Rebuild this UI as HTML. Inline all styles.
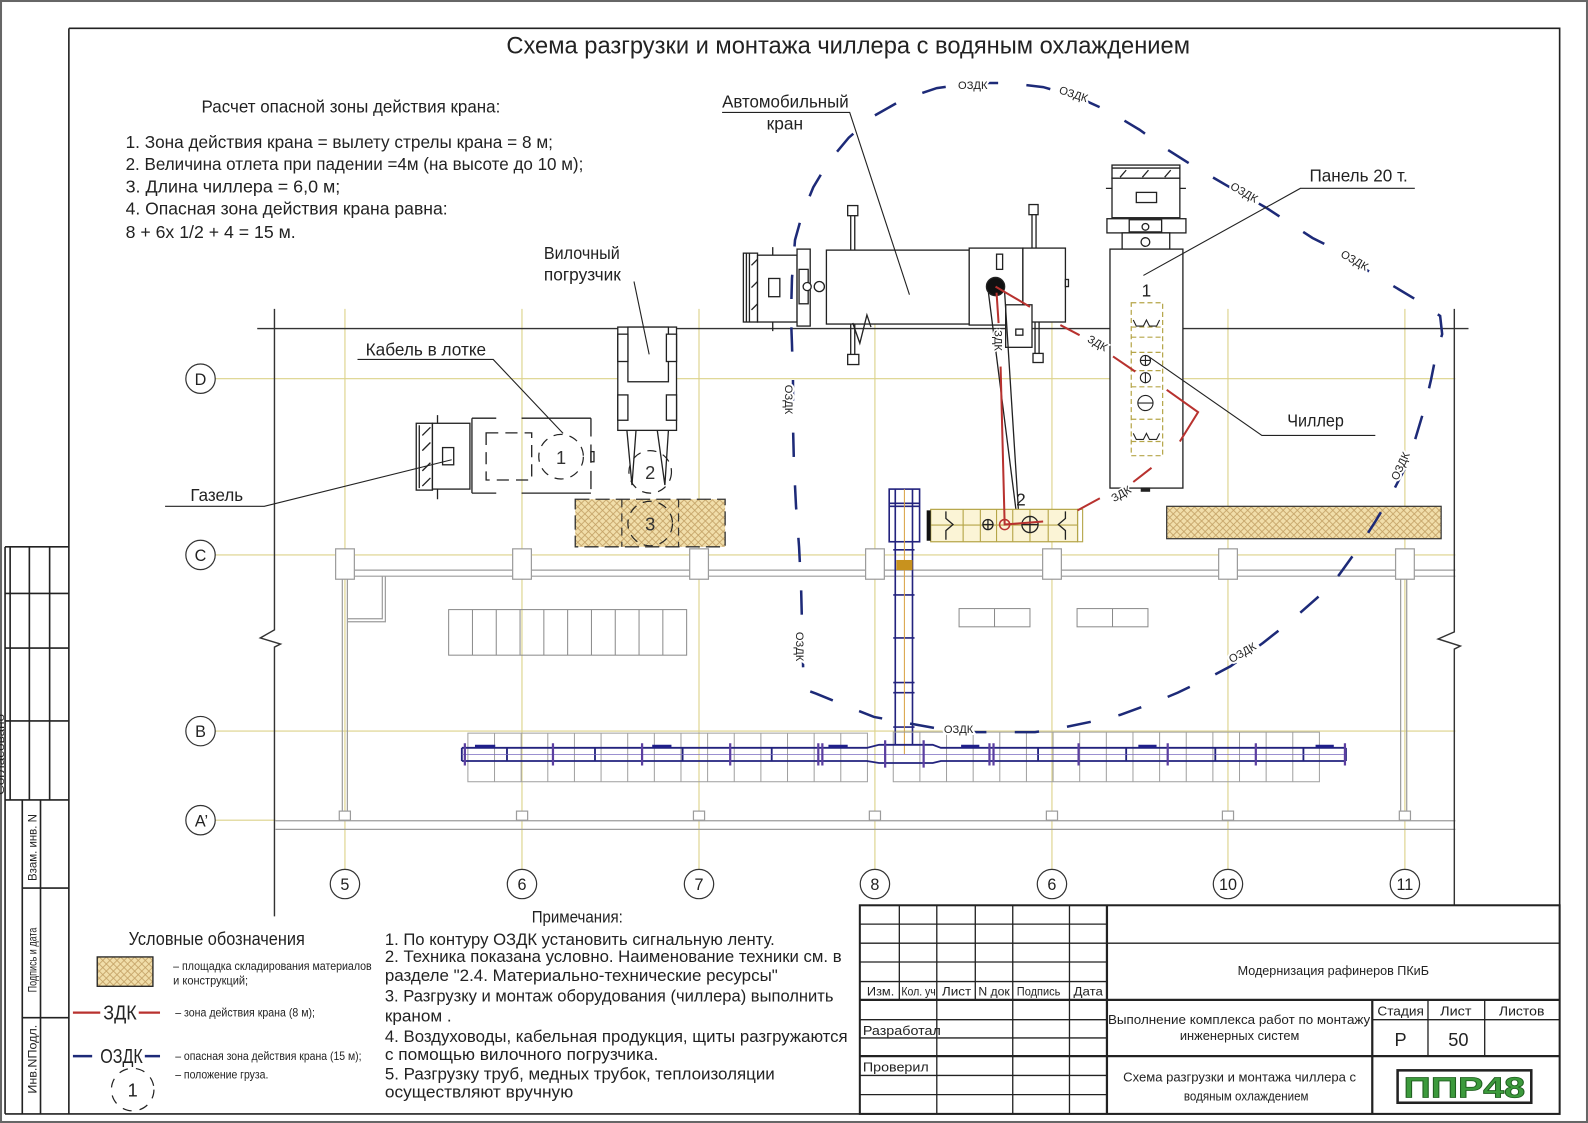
<!DOCTYPE html>
<html><head><meta charset="utf-8"><style>html,body{margin:0;padding:0;background:#fff}svg{display:block}</style></head>
<body>
<svg xmlns="http://www.w3.org/2000/svg" width="1588" height="1123" viewBox="0 0 1568 1109" preserveAspectRatio="none" font-family="'Liberation Sans','DejaVu Sans',sans-serif">
<defs>
<pattern id="h" width="7" height="7" patternUnits="userSpaceOnUse"><rect width="7" height="7" fill="#f1deaa"/><path d="M0 0L7 7M7 0L0 7" stroke="#c3a165" stroke-width="0.8"/></pattern>
</defs>
<rect width="1568" height="1109" fill="#fff"/>
<rect x="1" y="1" width="1566" height="1107" fill="none" stroke="#666" stroke-width="2"/>

<!-- drawing frame -->
<g stroke="#222" stroke-width="1.6" fill="none">
<path d="M68 28H1540V1100H5M68 28V1100"/>
<path d="M5 540V1100M5 540H68M10 540V790M29 540V790M49 540V790M5 586H68M5 640H68M5 712H68M5 790H68M22 790V1100M40 790V1100M22 877H68M22 1005H68"/>
</g>
<g fill="#222" font-size="12">
<text transform="translate(4,785) rotate(-90)" font-size="10" textLength="80" lengthAdjust="spacingAndGlyphs">Согласовано</text>
<text transform="translate(36,870) rotate(-90)" textLength="66" lengthAdjust="spacingAndGlyphs">Взам. инв. N</text>
<text transform="translate(36,980) rotate(-90)" textLength="64" lengthAdjust="spacingAndGlyphs">Подпись и дата</text>
<text transform="translate(36,1080) rotate(-90)" textLength="68" lengthAdjust="spacingAndGlyphs">Инв.NПодл.</text>
</g>

<!-- title -->
<text x="500" y="53" font-size="24" fill="#222" textLength="675" lengthAdjust="spacingAndGlyphs">Схема разгрузки и монтажа чиллера с водяным охлаждением</text>

<!-- calc text -->
<g fill="#222" font-size="17">
<text x="199" y="111" textLength="295" lengthAdjust="spacingAndGlyphs">Расчет опасной зоны действия крана:</text>
<text x="124" y="146" textLength="422" lengthAdjust="spacingAndGlyphs">1. Зона действия крана = вылету стрелы крана = 8 м;</text>
<text x="124" y="168" textLength="452" lengthAdjust="spacingAndGlyphs">2. Величина отлета при падении =4м (на высоте до 10 м);</text>
<text x="124" y="190" textLength="212" lengthAdjust="spacingAndGlyphs">3. Длина чиллера  = 6,0 м;</text>
<text x="124" y="212" textLength="318" lengthAdjust="spacingAndGlyphs">4. Опасная зона действия крана равна:</text>
<text x="124" y="235" textLength="168" lengthAdjust="spacingAndGlyphs">8 + 6х 1/2 + 4 = 15 м.</text>
</g>

<!-- yellow grid -->
<g stroke="#dcd28a" stroke-width="1.1" fill="none">
<path d="M340.6 305V859M515.4 305V859M690.2 305V859M863.9 305V859M1038.7 305V859M1212.5 305V859M1387.2 305V859M212.5 374H1437M212.5 548H1437M212.5 722H1437M212.5 810H272"/>
</g>

<!-- gray walls -->
<g stroke="#9c9c9c" stroke-width="1.2" fill="none">
<path d="M331 563H1437M331 569H1437"/>
<path d="M272 810.5H1437M272 819H1437"/>
<path d="M338 572V810M343 572V810"/>
<path d="M343 611H377.5V569M343 614H380.5V569"/>
<path d="M1383 572V810M1389 572V810"/>
</g>
<g stroke="#9c9c9c" stroke-width="1.2" fill="#fff">
<rect x="331.4" y="542" width="18.5" height="30"/><rect x="506.2" y="542" width="18.5" height="30"/><rect x="681" y="542" width="18.5" height="30"/><rect x="854.7" y="542" width="18.5" height="30"/><rect x="1029.5" y="542" width="18.5" height="30"/><rect x="1203.3" y="542" width="18.5" height="30"/><rect x="1378" y="542" width="18.5" height="30"/>
<rect x="335" y="801" width="11" height="9"/><rect x="510" y="801" width="11" height="9"/><rect x="684.7" y="801" width="11" height="9"/><rect x="858.4" y="801" width="11" height="9"/><rect x="1033.2" y="801" width="11" height="9"/><rect x="1207" y="801" width="11" height="9"/><rect x="1381.7" y="801" width="11" height="9"/>
</g>
<!-- middle boxes -->
<g stroke="#8a8a8a" stroke-width="1" fill="none">
<rect x="443" y="602" width="235" height="45"/>
<path d="M466.5 602V647M490 602V647M513.5 602V647M537 602V647M560.5 602V647M584 602V647M607.5 602V647M631 602V647M654.5 602V647"/>
<rect x="947" y="601" width="70" height="18"/><path d="M982 601V619"/>
<rect x="1063.5" y="601" width="70" height="18"/><path d="M1098.5 601V619"/>
</g>

<!-- dark building lines -->
<g stroke="#333" stroke-width="1.4" fill="none">
<path d="M254 324.5H1450"/>
<path d="M271 305V622L257 630L277 636L271 639V905"/>
<path d="M1436 305V624L1420 631L1442 638L1436 641V894"/>
</g>

<!-- axis circles -->
<g stroke="#333" stroke-width="1.2" fill="#fff">
<circle cx="198" cy="374" r="14.5"/><circle cx="198" cy="548" r="14.5"/><circle cx="198" cy="722" r="14.5"/><circle cx="198" cy="810" r="14.5"/>
<circle cx="340.6" cy="873" r="14.5"/><circle cx="515.4" cy="873" r="14.5"/><circle cx="690.2" cy="873" r="14.5"/><circle cx="863.9" cy="873" r="14.5"/><circle cx="1038.7" cy="873" r="14.5"/><circle cx="1212.5" cy="873" r="14.5"/><circle cx="1387.2" cy="873" r="14.5"/>
</g>
<g fill="#222" font-size="16" text-anchor="middle">
<text x="198" y="380">D</text><text x="198" y="554">C</text><text x="198" y="728">B</text><text x="199" y="816">A’</text>
<text x="340.6" y="879">5</text><text x="515.4" y="879">6</text><text x="690.2" y="879">7</text><text x="863.9" y="879">8</text><text x="1038.7" y="879">6</text><text x="1212.5" y="879">10</text><text x="1387.2" y="879">11</text>
</g>

<!-- storage areas -->
<rect x="568" y="493" width="148" height="47" fill="url(#h)" stroke="#333" stroke-width="1.3" stroke-dasharray="14 6"/>
<path d="M614 493V540M670 493V540" stroke="#333" stroke-width="1.2" stroke-dasharray="8 6"/>
<rect x="1152" y="500" width="271" height="32" fill="url(#h)" stroke="#333" stroke-width="1.2"/>

<!-- dashed load circles -->
<g fill="none" stroke="#222" stroke-width="1.2" stroke-dasharray="9 7">
<circle cx="554" cy="451" r="22"/><circle cx="642" cy="466" r="21"/><circle cx="642" cy="517" r="22"/>
</g>
<g fill="#333" font-size="18" text-anchor="middle">
<text x="554" y="458">1</text><text x="642" y="473">2</text><text x="642" y="524">3</text>
</g>

<!-- Gazelle -->
<g stroke="#222" stroke-width="1.3" fill="none">
<rect x="411" y="418" width="16" height="66" fill="#fff"/>
<path d="M414 420V482M417 430L425 422M417 445L425 437M417 465L425 457M417 480L425 472"/>
<rect x="427" y="418" width="37" height="65" fill="#fff"/>
<rect x="437" y="442" width="11" height="17"/>
<path d="M432 410V418M432 483V493"/>
<path d="M466 413V487M466 413H490M466 487H490M515 413H583.5M515 487H583.5"/>
<path d="M583.5 413V487" stroke-dasharray="18 8"/>
<rect x="583.5" y="446" width="3" height="10"/>
<rect x="480" y="427.5" width="45" height="46.5" stroke-dasharray="12 7"/>
</g>

<!-- Forklift -->
<g stroke="#222" stroke-width="1.3" fill="#fff">
<rect x="610" y="323" width="58" height="102"/>
<rect x="620" y="323" width="40" height="54"/>
<rect x="610" y="330" width="10" height="27"/><rect x="658" y="330" width="10" height="27"/>
<rect x="610" y="390" width="10" height="25"/><rect x="658" y="390" width="10" height="25"/>
<path d="M619 425L624 479L628 425M649 425L656.5 479L660 425" fill="none"/>
</g>

<!-- Crane -->
<g stroke="#222" stroke-width="1.3" fill="#fff">
<rect x="734" y="250" width="14" height="68"/>
<path d="M737 250V318M740 250V318M742 262L748 256M742 284L748 278M742 306L748 300" fill="none"/>
<rect x="748" y="252" width="39" height="66"/>
<rect x="759" y="275" width="11" height="18"/>
<path d="M763 244V252M763 318V327" fill="none"/>
<rect x="787" y="246" width="13" height="76"/>
<rect x="789" y="266" width="9" height="34"/>
<circle cx="797" cy="283" r="4"/><circle cx="809" cy="283" r="5"/>
<path d="M840 205V247M844 205V247M840 320V352M844 320V352" fill="none"/>
<rect x="837" y="203" width="10" height="10"/><rect x="837" y="350" width="11" height="10"/>
<path d="M1019 204V245M1023 204V245M1022 318V350M1026 318V350" fill="none"/>
<rect x="1016" y="202" width="9" height="10"/><rect x="1020" y="349" width="10" height="9"/>
<rect x="816" y="247" width="141" height="73"/>
<path d="M842 319L849 339L856 311L860 323" fill="none"/>
<rect x="957" y="245" width="53" height="76"/>
<rect x="1010" y="245" width="42" height="73"/>
<rect x="1052" y="276" width="3" height="7"/>
<rect x="993" y="301" width="26" height="42"/>
<rect x="1003" y="325" width="7" height="6"/>
<rect x="984" y="251" width="6" height="15"/>
<path d="M976 289L1004 510M992 289L1006 510" fill="none"/>
<circle cx="983" cy="283" r="9" fill="#111"/>
</g>

<!-- Panel truck -->
<g stroke="#222" stroke-width="1.3" fill="#fff">
<rect x="1098" y="163" width="67" height="13"/>
<path d="M1098 166H1165M1106 175L1112 168M1128 175L1134 168M1150 175L1156 168" fill="none"/>
<rect x="1098" y="176" width="67" height="39"/>
<rect x="1122" y="190" width="20" height="10"/>
<path d="M1092 186H1098M1165 186H1171" fill="none"/>
<rect x="1093" y="216" width="78" height="14"/>
<rect x="1115" y="217" width="32" height="12"/>
<circle cx="1131" cy="224" r="3.3"/>
<rect x="1108" y="230" width="47" height="16"/>
<circle cx="1131" cy="239" r="4.3"/>
<rect x="1096" y="246" width="72" height="236"/>
<rect x="1127" y="482" width="8" height="3" fill="#222"/>
</g>
<!-- chiller on trailer -->
<g fill="none" stroke="#b5a548" stroke-width="1.2" stroke-dasharray="5 3">
<rect x="1117" y="299" width="31" height="151"/>
<path d="M1117 323H1148M1117 333H1148M1117 348H1148M1117 366H1148M1117 382H1148M1117 414H1148M1117 436H1148"/>
</g>
<g fill="none" stroke="#222" stroke-width="1.1">
<path d="M1119 316L1122 322H1129L1132 316L1135 322H1142L1145 316M1119 428L1122 434H1129L1132 428L1135 434H1142L1145 428"/>
<circle cx="1131" cy="356" r="5"/><path d="M1126 356H1136M1131 351V361"/>
<circle cx="1131" cy="373" r="5"/><path d="M1131 368V378"/>
<circle cx="1131" cy="398" r="7.5"/><path d="M1123.5 398H1138.5"/>
</g>
<text x="1132" y="293" font-size="17" fill="#222" text-anchor="middle">1</text>

<!-- vertical duct -->
<g fill="none" stroke="#23237e" stroke-width="1.6">
<rect x="878" y="483" width="30" height="52" fill="#fff"/>
<path d="M884 483V735M901 483V735M878 497H908M878 500H908"/>
<path d="M882 543H903M882 587.5H903M882 630H903M882 674H903M882 684H903M882 718H903"/>
</g>
<path d="M893 483V745" stroke="#d9a040" stroke-width="1"/>
<rect x="885" y="553" width="16" height="10" fill="#c8921e"/>

<!-- chiller on truck -->
<rect x="919" y="503" width="145" height="32" fill="#fbf4d6" stroke="#b5a548" stroke-width="1.2"/>
<g stroke="#b5a548" stroke-width="1.1" fill="none">
<path d="M951 503V535M968 503V535M984 503V535M1000 503V535M1017 503V535M1035 503V535M919 518.5H1064"/>
<rect x="1064" y="503" width="5" height="32"/>
</g>
<g stroke="#222" stroke-width="1.3" fill="none">
<path d="M934 505V512L941 518L934 524V533M1052 505V512L1045 518L1052 524V533"/>
<circle cx="975.5" cy="518" r="5"/><path d="M970.5 518H980.5M975.5 513V523"/>
<circle cx="1017" cy="518" r="8"/><path d="M1009 518H1025M1017 510V526"/>
</g>
<rect x="915" y="504" width="4" height="30" fill="#111"/>

<!-- pipe cells -->
<g stroke="#a0a0a0" stroke-width="1" fill="none">
<rect x="462" y="724" width="394.5" height="48"/>
<path d="M488.3 724V772M514.6 724V772M540.9 724V772M567.2 724V772M593.5 724V772M619.8 724V772M646.1 724V772M672.4 724V772M698.7 724V772M725 724V772M751.3 724V772M777.6 724V772M803.9 724V772M830.2 724V772"/>
<rect x="882" y="723" width="420.8" height="49"/>
<path d="M908.3 723V772M934.6 723V772M960.9 723V772M987.2 723V772M1013.5 723V772M1039.8 723V772M1066.1 723V772M1092.4 723V772M1118.7 723V772M1145 723V772M1171.3 723V772M1197.6 723V772M1223.9 723V772M1250.2 723V772M1276.5 723V772"/>
</g>
<!-- pipe -->
<g fill="none" stroke="#23237e" stroke-width="1.8">
<path d="M456 738.5H856L868 735.5H921L929 738.5H1329M456 751.5H856L868 753.5H921L929 751.5H1329"/>
<path d="M456 738.5V751.5M1329 738.5V751.5"/>
<path d="M500.6 738.5V751.5M587.5 738.5V751.5M674 738.5V751.5M762 738.5V751.5M1025 738.5V751.5M1112 738.5V751.5M1200 738.5V751.5M1287 738.5V751.5"/>
</g>
<path d="M456 745H1329" stroke="#7a6bc0" stroke-width="0.8"/>
<g stroke="#5b3fa0" stroke-width="2.2">
<path d="M459 734V756M546 734V756M634 734V756M721 734V756M808 734V756M812 734V756M874 731V758M912 731V758M977 734V756M981 734V756M1065 734V756M1153 734V756M1240 734V756M1328 734V756"/>
</g>
<g stroke="#1f1f8a" stroke-width="3">
<path d="M469 737H489M644 737H663M818 737H837M949 737H967M1124 737H1142M1299 737H1317"/>
</g>

<!-- OZDK -->
<polyline fill="none" stroke="#1d2a78" stroke-width="2.5" stroke-dasharray="24 28" points="793,659 792,620 791,580 789,540 786,500 784,460 783,420 783,375 782,340 781,313 782,275 785,237 792,212 803,185 818,160 838,136 862,115 892,98 925,87 960,82 995,82 1030,86 1062,95 1095,110 1125,128 1150,146 1180,165 1211,183 1250,205 1296,235 1320,247 1350,267 1380,285 1405,300 1422,312 1424,330 1418,350 1413,375 1406,405 1397,435 1387,463 1373,490 1358,515 1340,543 1322,568 1301,590 1276,612 1247,635 1215,658 1196,668 1163,684 1139,694 1106,706 1081,712 1047,719 1022,723 985,723 962,723 923,719 901,715 863,708 840,699 806,685 795,681 793,659"/>
<g fill="#222" font-size="11" stroke="#fff" stroke-width="4" paint-order="stroke">
<text x="946" y="88">ОЗДК</text>
<text transform="translate(1045,92) rotate(18)">ОЗДК</text>
<text transform="translate(1214,186) rotate(30)">ОЗДК</text>
<text transform="translate(1323,253) rotate(30)">ОЗДК</text>
<text transform="translate(1380,475) rotate(-65)">ОЗДК</text>
<text transform="translate(1216,655) rotate(-30)">ОЗДК</text>
<text x="932" y="724">ОЗДК</text>
<text transform="translate(775,380) rotate(90)">ОЗДК</text>
<text transform="translate(786,624) rotate(90)">ОЗДК</text>
</g>

<!-- ZDK -->
<g fill="none" stroke="#b8322f" stroke-width="2">
<path d="M983 283L1017 303M1047 321L1066 331M1099 352L1121 367M1152 385L1183 407L1165 436M1137 462L1119 476M1086 492L1064 504M984 289L986 319M988 362L992 518L1030 515"/>
</g>
<circle cx="992" cy="518" r="5" fill="none" stroke="#b8322f" stroke-width="1.5"/>
<g fill="#222" font-size="11" stroke="#fff" stroke-width="3" paint-order="stroke">
<text transform="translate(1073,337) rotate(30)">ЗДК</text>
<text transform="translate(1100,496) rotate(-30)">ЗДК</text>
<text transform="translate(982,326) rotate(90)">ЗДК</text>
</g>
<text x="1008" y="499" font-size="17" fill="#222" text-anchor="middle">2</text>

<!-- labels and leaders -->
<g stroke="#222" stroke-width="1.1" fill="none">
<path d="M713 111H839L898 291"/>
<path d="M1397 186H1284L1129 272"/>
<path d="M1358 430H1246L1134 352"/>
<path d="M626 278L641 350"/>
<path d="M353 355H487L556 428"/>
<path d="M163 500H261L446 454"/>
</g>
<g fill="#222" font-size="17">
<text x="713" y="106" textLength="125" lengthAdjust="spacingAndGlyphs">Автомобильный</text>
<text x="757" y="128" textLength="36" lengthAdjust="spacingAndGlyphs">кран</text>
<text x="1293" y="179" textLength="97" lengthAdjust="spacingAndGlyphs">Панель 20 т.</text>
<text x="1271" y="421" textLength="56" lengthAdjust="spacingAndGlyphs">Чиллер</text>
<text x="537" y="256" textLength="75" lengthAdjust="spacingAndGlyphs">Вилочный</text>
<text x="537" y="277" textLength="76" lengthAdjust="spacingAndGlyphs">погрузчик</text>
<text x="361" y="351" textLength="119" lengthAdjust="spacingAndGlyphs">Кабель в лотке</text>
<text x="188" y="495" textLength="52" lengthAdjust="spacingAndGlyphs">Газель</text>
</g>

<!-- legend -->
<text x="127" y="933" font-size="18" fill="#222" textLength="174" lengthAdjust="spacingAndGlyphs">Условные обозначения</text>
<rect x="96" y="945" width="55" height="29" fill="url(#h)" stroke="#222" stroke-width="1.3"/>
<path d="M72 1000H99M137 1000H158" stroke="#b8322f" stroke-width="2.2"/>
<path d="M72 1043H91M143 1043H158" stroke="#1d2a78" stroke-width="2.5"/>
<circle cx="131" cy="1076" r="21" fill="none" stroke="#222" stroke-width="1.2" stroke-dasharray="9 8"/>
<g fill="#222">
<text x="102" y="1007" font-size="20" textLength="33" lengthAdjust="spacingAndGlyphs">ЗДК</text>
<text x="99" y="1050" font-size="20" textLength="42" lengthAdjust="spacingAndGlyphs">ОЗДК</text>
<text x="131" y="1083" font-size="18" text-anchor="middle">1</text>
<g font-size="12">
<text x="171" y="958" textLength="196" lengthAdjust="spacingAndGlyphs">– площадка складирования материалов</text>
<text x="171" y="972" textLength="74" lengthAdjust="spacingAndGlyphs">и конструкций;</text>
<text x="173" y="1004" textLength="138" lengthAdjust="spacingAndGlyphs">– зона действия крана (8 м);</text>
<text x="173" y="1047" textLength="184" lengthAdjust="spacingAndGlyphs">– опасная зона действия крана (15 м);</text>
<text x="173" y="1065" textLength="92" lengthAdjust="spacingAndGlyphs">– положение груза.</text>
</g>
</g>

<!-- notes -->
<g fill="#222" font-size="16.5">
<text x="525" y="911" textLength="90" lengthAdjust="spacingAndGlyphs">Примечания:</text>
<text x="380" y="933" textLength="385" lengthAdjust="spacingAndGlyphs">1. По контуру ОЗДК установить сигнальную ленту.</text>
<text x="380" y="950" textLength="451" lengthAdjust="spacingAndGlyphs">2. Техника показана условно. Наименование техники см. в</text>
<text x="380" y="969" textLength="388" lengthAdjust="spacingAndGlyphs">разделе "2.4. Материально-технические ресурсы"</text>
<text x="380" y="989" textLength="443" lengthAdjust="spacingAndGlyphs">3. Разгрузку и монтаж оборудования (чиллера) выполнить</text>
<text x="380" y="1009" textLength="66" lengthAdjust="spacingAndGlyphs">краном .</text>
<text x="380" y="1029" textLength="457" lengthAdjust="spacingAndGlyphs">4. Воздуховоды,  кабельная продукция, щиты разгружаются</text>
<text x="380" y="1047" textLength="270" lengthAdjust="spacingAndGlyphs">с помощью вилочного погрузчика.</text>
<text x="380" y="1066" textLength="385" lengthAdjust="spacingAndGlyphs">5. Разгрузку труб, медных трубок, теплоизоляции</text>
<text x="380" y="1084" textLength="186" lengthAdjust="spacingAndGlyphs">осуществляют вручную</text>
</g>

<!-- title block -->
<rect x="849" y="894" width="691" height="206" fill="#fff" stroke="#222" stroke-width="2"/>
<g stroke="#222" stroke-width="1.3" fill="none">
<path d="M888 894V987M963 894V987M925 894V1100M1000 894V1100M1056 894V1100"/>
<path d="M849 912.6H1093M849 931.4H1540M849 950H1093M849 969.3H1093"/>
<path d="M849 1007H1093M849 1025H1093M849 1062H1093M849 1081H1093M1355 1007H1540"/>
<path d="M1410 987V1043M1466 987V1043"/>
</g>
<g stroke="#222" stroke-width="2.2" fill="none">
<path d="M1093 894V1100M849 987.4H1540M849 1043H1540M1355 987V1100"/>
</g>
<g fill="#222" font-size="11.5">
<text x="856" y="983" textLength="27" lengthAdjust="spacingAndGlyphs">Изм.</text>
<text x="890" y="983" textLength="34" lengthAdjust="spacingAndGlyphs">Кол. уч</text>
<text x="930" y="983" textLength="29" lengthAdjust="spacingAndGlyphs">Лист</text>
<text x="966" y="983" textLength="31" lengthAdjust="spacingAndGlyphs">N док</text>
<text x="1004" y="983" textLength="43" lengthAdjust="spacingAndGlyphs">Подпись</text>
<text x="1060" y="983" textLength="29" lengthAdjust="spacingAndGlyphs">Дата</text>
<text x="852" y="1022" font-size="13" textLength="77" lengthAdjust="spacingAndGlyphs">Разработал</text>
<text x="852" y="1058" font-size="13" textLength="65" lengthAdjust="spacingAndGlyphs">Проверил</text>
<text x="1222" y="963" font-size="13" textLength="189" lengthAdjust="spacingAndGlyphs">Модернизация рафинеров ПКиБ</text>
<text x="1094" y="1011" font-size="13" textLength="259" lengthAdjust="spacingAndGlyphs">Выполнение комплекса работ по монтажу</text>
<text x="1165" y="1027" font-size="13" textLength="118" lengthAdjust="spacingAndGlyphs">инженерных систем</text>
<text x="1360" y="1003" font-size="13" textLength="46" lengthAdjust="spacingAndGlyphs">Стадия</text>
<text x="1422" y="1003" font-size="13" textLength="31" lengthAdjust="spacingAndGlyphs">Лист</text>
<text x="1480" y="1003" font-size="13" textLength="45" lengthAdjust="spacingAndGlyphs">Листов</text>
<text x="1383" y="1033" font-size="18" text-anchor="middle">Р</text>
<text x="1440" y="1033" font-size="18" text-anchor="middle">50</text>
<text x="1109" y="1068" font-size="13" textLength="230" lengthAdjust="spacingAndGlyphs">Схема разгрузки и монтажа чиллера с</text>
<text x="1169" y="1087" font-size="13" textLength="123" lengthAdjust="spacingAndGlyphs">водяным охлаждением</text>
</g>
<rect x="1380" y="1057" width="132" height="32" fill="#fff" stroke="#222" stroke-width="2.5"/>
<text x="1446" y="1084" font-size="28" font-weight="bold" fill="#3c9a3c" stroke="#1f5f1f" stroke-width="0.8" text-anchor="middle" textLength="120" lengthAdjust="spacingAndGlyphs">ППР48</text>
</svg>
</body></html>
